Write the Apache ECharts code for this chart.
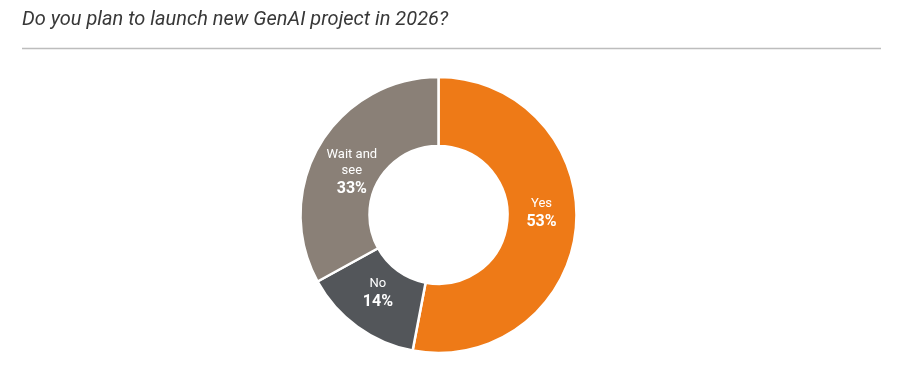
<!DOCTYPE html>
<html>
<head>
<meta charset="utf-8">
<script src="https://cdn.jsdelivr.net/npm/echarts@6/dist/echarts.min.js"></script>
<style>html,body{margin:0;padding:0;background:#fff;}#c{width:900px;height:370px;}</style>
</head>
<body>
<div id="c"></div>
<script>
const categories = ["Yes", "No", "Wait and see"];
const values = [53, 14, 33];
const colors = ["#EE7A17", "#53565A", "#8A8077"];
const labelLines = { "Yes": "Yes", "No": "No", "Wait and see": "Wait and\nsee" };
const labelShift = { "Yes": [-3, -11], "No": [2, -7], "Wait and see": [5, 12] };

const chart = echarts.init(document.getElementById('c'), null, { renderer: 'canvas' });
chart.setOption({
  animation: false,
  title: {
    text: "Do you plan to launch new GenAI project in 2026?",
    left: 17, top: 5,
    textStyle: { fontFamily: "Roboto", fontStyle: "italic", fontWeight: "normal", fontSize: 20, color: "#383838" }
  },
  graphic: [{
    type: 'line', shape: { x1: 22, y1: 48.5, x2: 881, y2: 48.5 },
    style: { stroke: '#bdbdbd', lineWidth: 1.5 }
  }],
  series: [{
    type: 'pie',
    center: [438.5, 215],
    radius: [69, 138],
    startAngle: 90,
    clockwise: true,
    itemStyle: { borderColor: '#fff', borderWidth: 2.5 },
    label: {
      show: true, position: 'inside', color: '#fff',
      fontFamily: 'Roboto',
      formatter: p => '{n|' + labelLines[p.name] + '}\n{v|' + p.value + '%}',
      rich: {
        n: { fontSize: 13, color: '#fff', fontFamily: 'Roboto', lineHeight: 16, align: 'center' },
        v: { fontSize: 16, fontWeight: 'bold', color: '#fff', fontFamily: 'Roboto', lineHeight: 21, align: 'center' }
      }
    },
    labelLine: { show: false },
    data: categories.map((c, i) => ({
      name: c, value: values[i],
      itemStyle: { color: colors[i] },
      label: { offset: labelShift[c] }
    }))
  }]
});
</script>
</body>
</html>
